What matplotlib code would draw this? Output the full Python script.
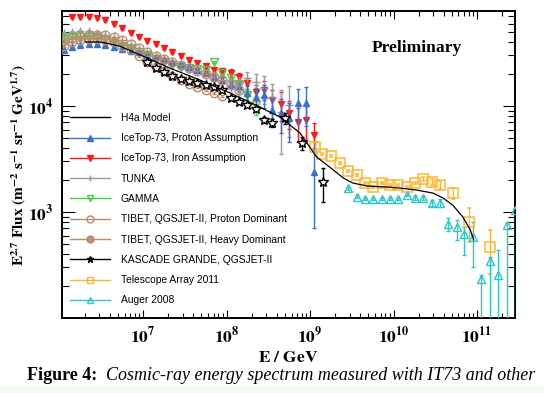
import numpy as np
import matplotlib
matplotlib.use('Agg')
import matplotlib.pyplot as plt
from matplotlib.lines import Line2D
from matplotlib.patches import Rectangle
from matplotlib.ticker import FixedLocator, LogLocator, FuncFormatter, NullFormatter

plt.rcParams['mathtext.fontset'] = 'stix'
plt.rcParams['font.family'] = ['Liberation Sans', 'DejaVu Sans']

# ---------------- data (log10 E/GeV, E^2.7 flux) ----------------
h4a_logE = [6.31, 6.49, 6.72, 7.05, 7.32, 7.68, 8.04, 8.35, 8.64, 8.88, 9.08, 9.28, 9.40,
            9.51, 9.68, 9.92, 10.08, 10.28, 10.47, 10.59, 10.71, 10.83, 10.92, 10.96]
h4a_flux = [40200, 40200, 36800, 28400, 22800, 17600, 13300, 10200, 7870, 5560, 3300, 2490, 2090,
            1880, 1760, 1720, 1680, 1610, 1510, 1360, 1160, 898, 677, 544]

it_p_logE = [6.05, 6.15, 6.25, 6.35, 6.45, 6.55, 6.65, 6.75, 6.85, 6.95, 7.05, 7.15, 7.25, 7.35, 7.45,
             7.55, 7.65, 7.75, 7.85, 7.95, 8.05, 8.15, 8.25, 8.35, 8.45, 8.55, 8.65, 8.75, 8.85, 8.95, 9.05]
it_p_flux = [33800, 36100, 37600, 38500, 38500, 37600, 36100, 34500, 33000, 32300, 30300, 29000, 27700,
             26000, 24900, 23300, 21900, 20500, 18800, 17600, 16100, 15100, 13300, 12200, 12700, 9170,
             8590, 7710, 10700, 10700, 2380]
it_p_err = [0.03, 0.03, 0.03, 0.03, 0.03, 0.03, 0.03, 0.03, 0.03, 0.03, 0.03, 0.03, 0.03, 0.03, 0.03,
            0.03, 0.04, 0.04, 0.05, 0.06, 0.08, 0.10, 0.15, 0.20, 0.25, 0.30, 0.35, 0.40, 0.35, 0.40, 0.70]

it_fe_logE = [6.15, 6.25, 6.35, 6.45, 6.55, 6.65, 6.75, 6.85, 6.95, 7.05, 7.15, 7.25, 7.35, 7.45, 7.55,
              7.65, 7.75, 7.85, 7.95, 8.05, 8.15, 8.25, 8.35, 8.45, 8.55, 8.65, 8.75, 8.85, 8.95, 9.05]
it_fe_flux = [69200, 69200, 69200, 67600, 64800, 59400, 54400, 48800, 44800, 41000, 38500, 35300, 32300,
              29600, 27200, 25500, 23800, 21900, 21400, 20500, 18800, 16500, 13600, 14200, 11400, 10400,
              8590, 7060, 7380, 5330]
it_fe_err = [0.03, 0.03, 0.03, 0.03, 0.03, 0.03, 0.03, 0.03, 0.03, 0.03, 0.03, 0.03, 0.03, 0.03, 0.03,
             0.04, 0.04, 0.05, 0.06, 0.08, 0.10, 0.12, 0.15, 0.20, 0.25, 0.30, 0.30, 0.35, 0.35, 0.30]

tunka_logE = [6.05, 6.15, 6.25, 6.35, 6.45, 6.55, 6.65, 6.75, 6.85, 6.95, 7.05, 7.15, 7.25, 7.35,
              7.45, 7.55, 7.65, 7.75, 7.85, 7.95, 8.05, 8.15, 8.25, 8.35, 8.45, 8.55, 8.65, 8.75]
tunka_flux = [48800, 49900, 51000, 51000, 48800, 45700, 42000, 38500, 35300, 33000, 31000, 29000,
              27200, 25500, 23800, 22300, 21400, 20500, 19600, 18800, 17600, 17600, 18400, 16800,
              14800, 11900, 8780, 10200]
tunka_err = [0.02, 0.02, 0.02, 0.02, 0.02, 0.02, 0.02, 0.02, 0.02, 0.02, 0.02, 0.02, 0.02, 0.02,
             0.02, 0.02, 0.02, 0.02, 0.02, 0.02, 0.05, 0.10, 0.15, 0.20, 0.30, 0.35, 0.60, 0.50]

gamma_logE = [6.05, 6.15, 6.25, 6.35, 6.45, 6.55, 6.65, 6.75, 6.85, 6.95, 7.05, 7.15, 7.25, 7.35,
              7.45, 7.55, 7.65, 7.75, 7.85, 7.95, 8.05, 8.15, 8.25, 8.35]
gamma_flux = [42900, 44800, 44800, 44800, 43900, 42000, 39300, 36800, 34500, 32300, 30300, 27700,
              26000, 24400, 23300, 22800, 22300, 21900, 26000, 20500, 18400, 15800, 12700, 10200]
gamma_err = [0.03, 0.03, 0.03, 0.03, 0.03, 0.03, 0.03, 0.03, 0.03, 0.03, 0.03, 0.03, 0.03, 0.03,
             0.03, 0.03, 0.03, 0.03, 0.03, 0.05, 0.08, 0.10, 0.15, 0.20]

tibp_logE = [6.05, 6.15, 6.25, 6.35, 6.45, 6.55, 6.65, 6.75, 6.85, 6.95, 7.05, 7.15, 7.25, 7.35,
             7.45, 7.55, 7.65, 7.75, 7.85, 7.95]
tibp_flux = [36800, 40200, 42000, 42900, 42900, 42000, 40200, 36800, 33800, 29600, 26000, 23300,
             21400, 19200, 17600, 16100, 15100, 14200, 13300, 12400]
tibp_err = [0.02, 0.02, 0.02, 0.02, 0.02, 0.02, 0.02, 0.02, 0.02, 0.02, 0.02, 0.02, 0.02, 0.02,
            0.02, 0.02, 0.02, 0.02, 0.02, 0.02]

tibh_logE = [6.05, 6.15, 6.25, 6.35, 6.45, 6.55, 6.65, 6.75, 6.85, 6.95, 7.05, 7.15, 7.25, 7.35,
             7.45, 7.55, 7.65, 7.75, 7.85, 7.95, 8.05, 8.15]
tibh_flux = [42000, 43900, 45700, 46800, 46800, 46800, 44800, 42000, 38500, 35300, 32300, 29600,
             27700, 26000, 24400, 22800, 21400, 20000, 18800, 17600, 15800, 14200]
tibh_err = [0.02, 0.02, 0.02, 0.02, 0.02, 0.02, 0.02, 0.02, 0.02, 0.02, 0.02, 0.02, 0.02, 0.02,
            0.02, 0.02, 0.03, 0.04, 0.05, 0.10, 0.15, 0.20]

kg_logE = [7.05, 7.15, 7.25, 7.35, 7.45, 7.55, 7.65, 7.75, 7.85, 7.95, 8.05, 8.15, 8.25, 8.35,
           8.45, 8.55, 8.70, 8.90, 9.16]
kg_flux = [26000, 22800, 20900, 19200, 18000, 17200, 16500, 15800, 15100, 14200, 11900, 10900,
           10200, 9370, 7380, 6920, 7710, 4480, 1920]
kg_err = [0.03, 0.03, 0.03, 0.03, 0.03, 0.03, 0.03, 0.03, 0.03, 0.03, 0.03, 0.03, 0.03, 0.04,
          0.06, 0.08, 0.12, 0.15, 0.35]

ta_logE = [9.06, 9.14, 9.25, 9.36, 9.46, 9.56, 9.66, 9.75, 9.86, 9.96, 10.05, 10.16, 10.26,
           10.35, 10.46, 10.56, 10.71, 10.90, 11.16]
ta_flux = [4100, 3530, 3380, 2900, 2440, 2230, 1880, 1720, 1880, 1800, 1800, 1720, 1880,
           2050, 1920, 1800, 1510, 806, 468]
ta_err = [0.12, 0.03, 0.03, 0.03, 0.03, 0.03, 0.03, 0.03, 0.03, 0.03, 0.03, 0.03, 0.03,
          0.05, 0.06, 0.08, 0.12, 0.35, 0.45]

aug_logE = [9.46, 9.56, 9.66, 9.75, 9.86, 9.96, 10.05, 10.16, 10.26, 10.35, 10.46, 10.56, 10.65,
            10.76, 10.84, 10.95, 11.05, 11.16, 11.25, 11.36, 11.46]
aug_flux = [1680, 1390, 1330, 1330, 1330, 1330, 1330, 1450, 1360, 1360, 1220, 1220, 771,
            722, 620, 581, 233, 345, 254, 754, 1040]
aug_err_lo = [0.03, 0.03, 0.03, 0.03, 0.03, 0.03, 0.03, 0.03, 0.04, 0.04, 0.06, 0.08, 0.15,
              0.25, 0.37, 0.48, 0.999, 0.999, 0.999, 0.999, 0.999]
aug_err_hi = [0.03, 0.03, 0.03, 0.03, 0.03, 0.03, 0.03, 0.03, 0.04, 0.04, 0.06, 0.08, 0.15,
              0.16, 0.16, 0.38, 0.10, 0.10, 0.72, 0.05, 0.05]

labels = ['H4a Model', 'IceTop-73, Proton Assumption', 'IceTop-73, Iron Assumption', 'TUNKA',
          'GAMMA', 'TIBET, QGSJET-II, Proton Dominant', 'TIBET, QGSJET-II, Heavy Dominant',
          'KASCADE GRANDE, QGSJET-II', 'Telescope Array 2011', 'Auger 2008']

C_BLUE = '#3a70d4'
C_RED = '#ff1a1a'
C_GRAY = '#9a9a9a'
C_GREEN = '#44cc44'
C_BROWN = '#b8896c'
C_ORANGE = '#ffb52e'
C_CYAN = '#2ec6c6'

# ---------------- figure ----------------
fig = plt.figure(figsize=(5.44, 3.93), dpi=100)
fig.patches.append(Rectangle((0, 0), 1, 7 / 393, transform=fig.transFigure,
                             color='#f3faf3', zorder=0))
ax = fig.add_axes([62 / 544, 1 - 318 / 393, (515 - 62) / 544, (318 - 11) / 393])
ax.set_xscale('log')
ax.set_yscale('log')


def draw(logE, flux, lo, hi, color, marker, ms, mfc, mew=1.0, z=3):
    E = 10 ** np.asarray(logE)
    F = np.asarray(flux, dtype=float)
    yerr = [F * np.asarray(lo), F * np.asarray(hi)]
    ax.errorbar(E, F, yerr=yerr, fmt='', linestyle='none', marker=marker, color=color, ms=ms,
                mfc=mfc, mec=color, mew=mew, elinewidth=1.0, capsize=1.5, capthick=1.0, zorder=z)


draw(it_fe_logE, it_fe_flux, it_fe_err, it_fe_err, C_RED, 'v', 5, C_RED, z=3)
draw(tunka_logE, tunka_flux, tunka_err, tunka_err, C_GRAY, '+', 6, C_GRAY, z=3)
draw(gamma_logE, gamma_flux, gamma_err, gamma_err, C_GREEN, 'v', 5.5, 'none', z=3)
draw(it_p_logE, it_p_flux, it_p_err, it_p_err, C_BLUE, '^', 5, C_BLUE, z=4)
draw(tibp_logE, tibp_flux, tibp_err, tibp_err, C_BROWN, 'o', 6, 'none', z=4)
draw(tibh_logE, tibh_flux, tibh_err, tibh_err, C_BROWN, r'$\oplus$', 7, C_BROWN, mew=0.3, z=4)
draw(kg_logE, kg_flux, kg_err, kg_err, 'black', '*', 7.5, 'white', mew=1.0, z=5)
draw(ta_logE, ta_flux, ta_err, ta_err, C_ORANGE, 's', 6.5, 'none', mew=1.1, z=5)
draw(aug_logE, aug_flux, aug_err_lo, aug_err_hi, C_CYAN, '^', 6, 'none', mew=1.0, z=5)
ax.plot(10 ** np.asarray(h4a_logE), h4a_flux, color='black', lw=0.9, zorder=6)

ax.set_xlim(1.07e6, 2.85e11)
ax.set_ylim(100, 7.88e4)

# ticks
ax.xaxis.set_major_locator(FixedLocator([1e7, 1e8, 1e9, 1e10, 1e11]))
ax.yaxis.set_major_locator(FixedLocator([1e3, 1e4]))
ax.xaxis.set_minor_locator(LogLocator(base=10, subs=np.arange(2, 10), numticks=20))
ax.yaxis.set_minor_locator(LogLocator(base=10, subs=np.arange(2, 10), numticks=20))
fmt = FuncFormatter(lambda v, p: r'$\mathbf{10^{%d}}$' % int(round(np.log10(v))))
ax.xaxis.set_major_formatter(fmt)
ax.yaxis.set_major_formatter(fmt)
ax.xaxis.set_minor_formatter(NullFormatter())
ax.yaxis.set_minor_formatter(NullFormatter())
ax.tick_params(which='both', direction='in', top=True, right=True, width=0.8, colors='black')
ax.tick_params(axis='x', which='major', length=6, pad=5, labelsize=12.5)
ax.tick_params(axis='x', which='minor', length=3.5)
ax.tick_params(axis='y', which='major', length=9, pad=6, labelsize=12.5)
ax.tick_params(axis='y', which='minor', length=5)
for s in ax.spines.values():
    s.set_linewidth(1.4)

ax.set_xlabel(r'$\mathbf{E\ /\ GeV}$', fontsize=12.5, labelpad=3)
ax.set_ylabel(r'$\mathbf{E^{2.7}\ Flux\ (m^{-2}\ s^{-1}\ sr^{-1}\ GeV^{1.7})}$', fontsize=11, labelpad=0.5)

ax.text(0.784, 0.88, 'Preliminary', transform=ax.transAxes, ha='center', va='center',
        fontsize=12.6, fontweight='bold', family='Liberation Serif')

# legend
cols = ['black', C_BLUE, C_RED, C_GRAY, C_GREEN, C_BROWN, C_BROWN, 'black', C_ORANGE, C_CYAN]
marks = [None, '^', 'v', '+', 'v', 'o', r'$\oplus$', '*', 's', '^']
fills = [None, C_BLUE, C_RED, C_GRAY, 'none', 'none', C_BROWN, 'black', 'none', 'none']
handles = []
for c, m, f in zip(cols, marks, fills):
    if m is None:
        handles.append(Line2D([], [], color=c, lw=1.0))
    else:
        handles.append(Line2D([], [], color=c, lw=1.0, marker=m, ms=5, mfc=f, mec=c))
ax.legend(handles, labels, loc='upper left', bbox_to_anchor=(0.018, 0.668), frameon=False,
          fontsize=7.4, handlelength=3.9, handletextpad=1.0, labelspacing=1.0, borderpad=0,
          borderaxespad=0)

# caption
fig.text(27 / 544, 1 - 376 / 393, r'Figure 4:', fontsize=13, fontweight='bold',
         family='Liberation Serif', va='center', ha='left')
fig.text(106 / 544, 1 - 376 / 393, 'Cosmic-ray energy spectrum measured with IT73 and other',
         fontsize=13, style='italic', family='Liberation Serif', va='center', ha='left')

fig.savefig('out.png', dpi=100)
